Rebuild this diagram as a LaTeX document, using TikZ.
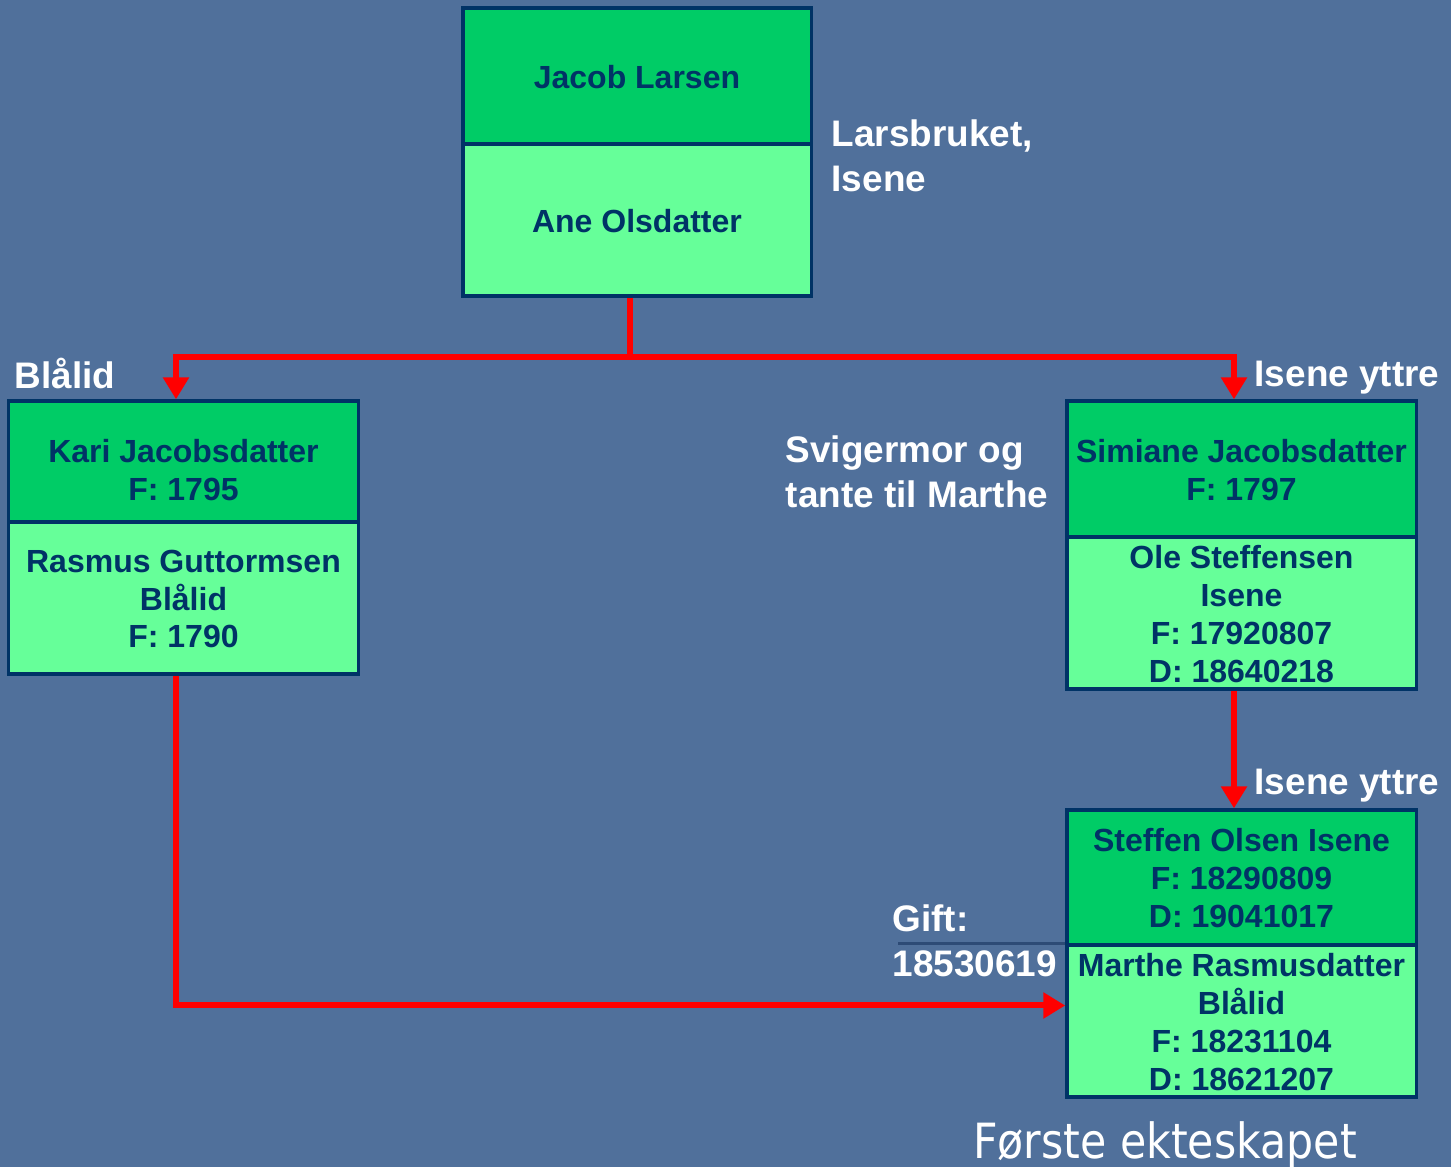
\documentclass[tikz,border=0pt]{standalone}
\usepackage{fontspec}
\setmainfont{Liberation Sans}
\newfontfamily\tahoma[FakeStretch=0.88]{DejaVu Sans}
\usetikzlibrary{arrows.meta,calc}
\definecolor{bg}{RGB}{80,112,155}
\definecolor{dkgreen}{RGB}{0,204,102}
\definecolor{ltgreen}{RGB}{102,255,153}
\definecolor{navy}{RGB}{0,51,102}
\definecolor{gline}{RGB}{45,75,118}
\begin{document}
\begin{tikzpicture}[x=0.01cm,y=-0.01cm,
 half/.style={draw=navy,line width=0.032cm,minimum width=3.49cm,inner sep=0pt},
 upper/.style={half,fill=dkgreen},
 lower/.style={half,fill=ltgreen},
 boxtxt/.style={text=navy,font=\bfseries\fontsize{9.1}{10.8}\selectfont,align=center,inner sep=0pt},
 lbl/.style={text=white,font=\bfseries\fontsize{10.5}{12.8}\selectfont,align=left,inner sep=0pt,anchor=west},
 link/.style={draw=red,line width=0.06cm},
 arr/.style={link,-{Triangle[width=0.25cm,length=0.22cm]}}]
\fill[bg] (0,0) rectangle (1451,1167);
\useasboundingbox (0,0) rectangle (1451,1167);

% boxes
\node[upper,minimum width=3.48cm,minimum height=1.36cm] (jacob) at (637,76) {};
\node[lower,minimum width=3.48cm,minimum height=1.52cm] (ane) at (637,220) {};
\node[upper,minimum height=1.21cm] (kari) at (183.5,461.5) {};
\node[lower,minimum height=1.52cm] (rasmus) at (183.5,598) {};
\node[upper,minimum height=1.36cm] (simiane) at (1241.5,469) {};
\node[lower,minimum height=1.52cm] (ole) at (1241.5,613) {};
\node[upper,minimum height=1.35cm] (steffen) at (1241.5,877.5) {};
\node[lower,minimum height=1.52cm] (marthe) at (1241.5,1021) {};

% box texts
\node[boxtxt] (tjacob) at (637,77) {Jacob Larsen};
\node[boxtxt] (tane) at (637,221) {Ane Olsdatter};
\node[boxtxt] (tkari) at (183.5,470) {Kari Jacobsdatter\\F: 1795};
\node[boxtxt] (trasmus) at (183.5,599) {Rasmus Guttormsen\\Blålid\\F: 1790};
\node[boxtxt] (tsimiane) at (1241.5,470) {Simiane Jacobsdatter\\F: 1797};
\node[boxtxt] (tole) at (1241.5,614) {Ole Steffensen\\Isene\\F: 17920807\\D: 18640218};
\node[boxtxt] (tsteffen) at (1241.5,878) {Steffen Olsen Isene\\F: 18290809\\D: 19041017};
\node[boxtxt] (tmarthe) at (1241.5,1022) {Marthe Rasmusdatter\\Blålid\\F: 18231104\\D: 18621207};

% thin line by Gift
\draw[gline,line width=0.035cm] (marthe.north west) -- ++(-167,0);

% connectors
\coordinate (j) at ([yshift=-0.59cm,xshift=-0.07cm]ane.south);
\draw[arr] ([xshift=-0.07cm]ane.south) -- (j) -| ([xshift=-0.075cm]kari.north);
\draw[arr] (j) -| ([xshift=-0.075cm]simiane.north);
\draw[arr] ([xshift=-0.075cm]ole.south) -- ([xshift=-0.075cm]steffen.north);
\draw[arr] ([xshift=-0.075cm]rasmus.south) |- ([yshift=0.155cm]marthe.west);

% labels
\node[lbl] (lars) at (831,155.5) {Larsbruket,\\Isene};
\node[lbl] (blalid) at (14,373) {Blålid};
\node[lbl] (iy1) at (1254,378) {Isene yttre};
\node[lbl] (iy2) at (1254,786) {Isene yttre};
\node[lbl] (sv) at (785,471.5) {Svigermor og\\tante til Marthe};
\node[lbl] (gift) at (892,940.5) {Gift:\\18530619};
\node[text=white,font=\tahoma\fontsize{13.8}{16}\selectfont,inner sep=0pt,anchor=base] (forste) at (1165,1158) {Første ekteskapet};
\end{tikzpicture}
\end{document}
